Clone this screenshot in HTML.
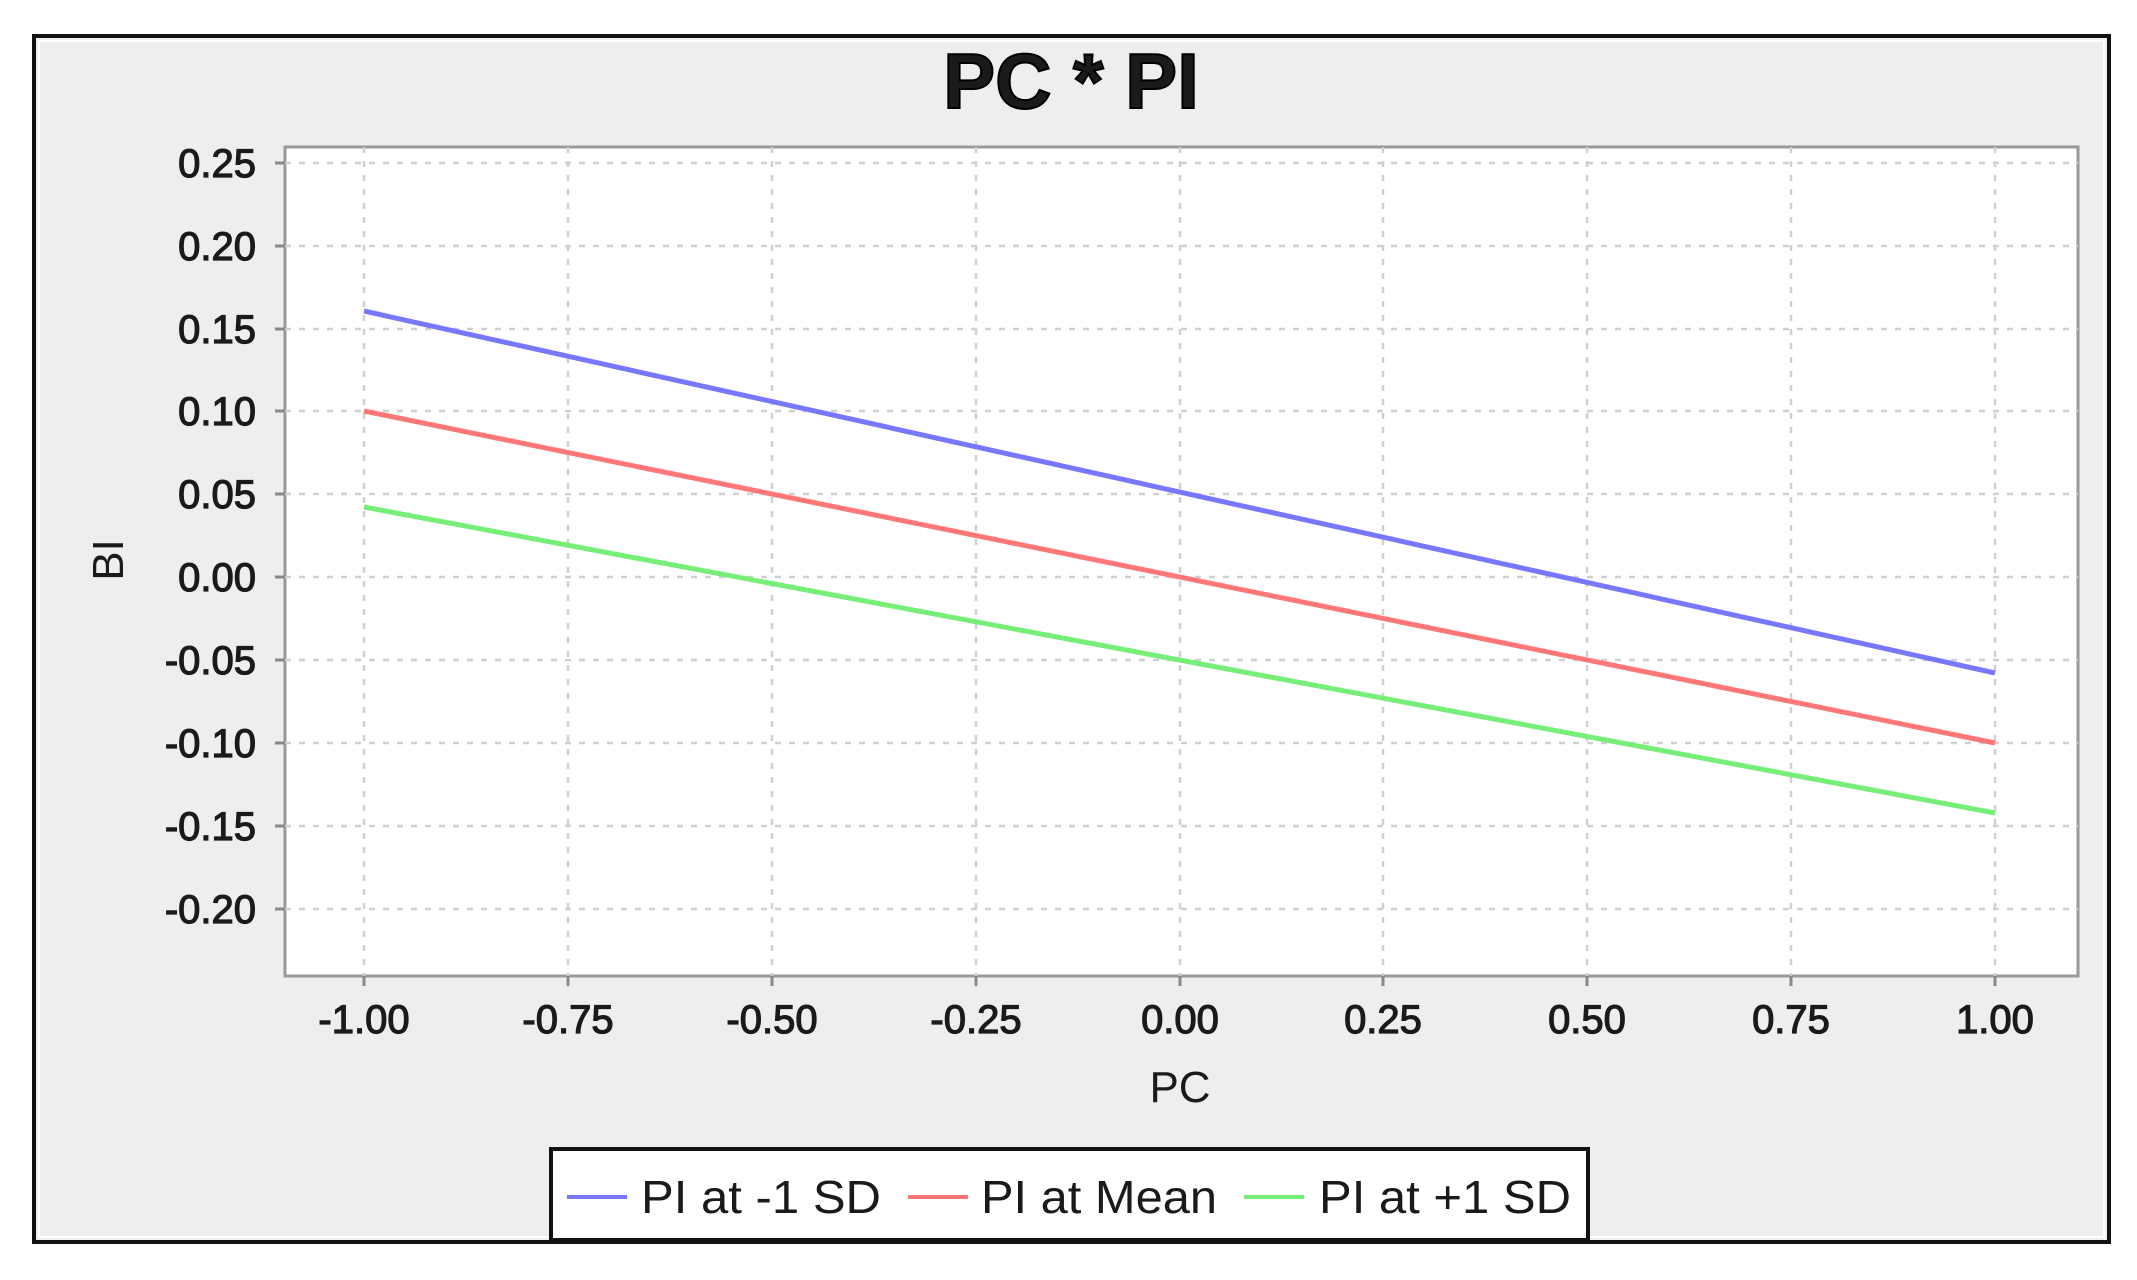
<!DOCTYPE html>
<html><head><meta charset="utf-8"><style>
html,body{margin:0;padding:0;background:#fff;}
svg{display:block;}
text{font-family:"Liberation Sans",Arial,sans-serif;fill:#1a1a1a;}
</style></head><body>
<svg width="2137" height="1280" viewBox="0 0 2137 1280" xmlns="http://www.w3.org/2000/svg">
<rect x="0" y="0" width="2137" height="1280" fill="#fff"/>
<rect x="34" y="36" width="2075" height="1206" fill="#eeeeee" stroke="#111" stroke-width="4"/>
<rect x="39" y="41" width="2065" height="1196" fill="none" stroke="#fff" stroke-width="2"/>
<text x="1071" y="108" font-size="78" font-weight="bold" text-anchor="middle" fill="#000" stroke="#000" stroke-width="2">PC * PI</text>
<rect x="285" y="147" width="1793" height="829" fill="#fff" stroke="#999" stroke-width="3"/>
<g stroke="#d0d0d0" stroke-width="2.5" stroke-dasharray="6,8">
<line x1="285" y1="163" x2="2078" y2="163"/><line x1="285" y1="246" x2="2078" y2="246"/>
<line x1="285" y1="329" x2="2078" y2="329"/><line x1="285" y1="411" x2="2078" y2="411"/>
<line x1="285" y1="494" x2="2078" y2="494"/><line x1="285" y1="577" x2="2078" y2="577"/>
<line x1="285" y1="660" x2="2078" y2="660"/><line x1="285" y1="743" x2="2078" y2="743"/>
<line x1="285" y1="826" x2="2078" y2="826"/><line x1="285" y1="909" x2="2078" y2="909"/>
<line x1="364" y1="147" x2="364" y2="976"/><line x1="568" y1="147" x2="568" y2="976"/>
<line x1="772" y1="147" x2="772" y2="976"/><line x1="976" y1="147" x2="976" y2="976"/>
<line x1="1180" y1="147" x2="1180" y2="976"/><line x1="1383" y1="147" x2="1383" y2="976"/>
<line x1="1587" y1="147" x2="1587" y2="976"/><line x1="1791" y1="147" x2="1791" y2="976"/>
<line x1="1995" y1="147" x2="1995" y2="976"/>
</g>
<g stroke="#888" stroke-width="3">
<line x1="275" y1="163" x2="285" y2="163"/><line x1="275" y1="246" x2="285" y2="246"/>
<line x1="275" y1="329" x2="285" y2="329"/><line x1="275" y1="411" x2="285" y2="411"/>
<line x1="275" y1="494" x2="285" y2="494"/><line x1="275" y1="577" x2="285" y2="577"/>
<line x1="275" y1="660" x2="285" y2="660"/><line x1="275" y1="743" x2="285" y2="743"/>
<line x1="275" y1="826" x2="285" y2="826"/><line x1="275" y1="909" x2="285" y2="909"/>
<line x1="364" y1="976" x2="364" y2="986"/><line x1="568" y1="976" x2="568" y2="986"/>
<line x1="772" y1="976" x2="772" y2="986"/><line x1="976" y1="976" x2="976" y2="986"/>
<line x1="1180" y1="976" x2="1180" y2="986"/><line x1="1383" y1="976" x2="1383" y2="986"/>
<line x1="1587" y1="976" x2="1587" y2="986"/><line x1="1791" y1="976" x2="1791" y2="986"/>
<line x1="1995" y1="976" x2="1995" y2="986"/>
</g>
<g font-size="40" text-anchor="end" stroke="#1a1a1a" stroke-width="1.2">
<text x="256" y="177">0.25</text><text x="256" y="260">0.20</text>
<text x="256" y="343">0.15</text><text x="256" y="425">0.10</text>
<text x="256" y="508">0.05</text><text x="256" y="591">0.00</text>
<text x="256" y="674">-0.05</text><text x="256" y="757">-0.10</text>
<text x="256" y="840">-0.15</text><text x="256" y="923">-0.20</text>
</g>
<g font-size="40" text-anchor="middle" stroke="#1a1a1a" stroke-width="1.2">
<text x="364" y="1033">-1.00</text><text x="568" y="1033">-0.75</text>
<text x="772" y="1033">-0.50</text><text x="976" y="1033">-0.25</text>
<text x="1180" y="1033">0.00</text><text x="1383" y="1033">0.25</text>
<text x="1587" y="1033">0.50</text><text x="1791" y="1033">0.75</text>
<text x="1995" y="1033">1.00</text>
</g>
<text x="1180" y="1102" font-size="44" text-anchor="middle">PC</text>
<text transform="translate(123,560) rotate(-90)" font-size="44" text-anchor="middle">BI</text>
<g stroke-width="5" fill="none">
<line x1="364" y1="311" x2="1995" y2="673" stroke="#7777ff"/>
<line x1="364" y1="411" x2="1995" y2="743" stroke="#ff7777"/>
<line x1="364" y1="507" x2="1995" y2="813" stroke="#77ee77"/>
</g>
<rect x="551" y="1149" width="1037" height="91" fill="#fff" stroke="#111" stroke-width="4"/>
<line x1="567" y1="1197" x2="627" y2="1197" stroke="#7777ff" stroke-width="4"/>
<line x1="908" y1="1197" x2="968" y2="1197" stroke="#ff7777" stroke-width="4"/>
<line x1="1244" y1="1197" x2="1304" y2="1197" stroke="#77ee77" stroke-width="4"/>
<g font-size="46">
<text x="641" y="1213" textLength="240" lengthAdjust="spacingAndGlyphs">PI at -1 SD</text>
<text x="981" y="1213" textLength="236" lengthAdjust="spacingAndGlyphs">PI at Mean</text>
<text x="1319" y="1213" textLength="252" lengthAdjust="spacingAndGlyphs">PI at +1 SD</text>
</g>
</svg>
</body></html>
